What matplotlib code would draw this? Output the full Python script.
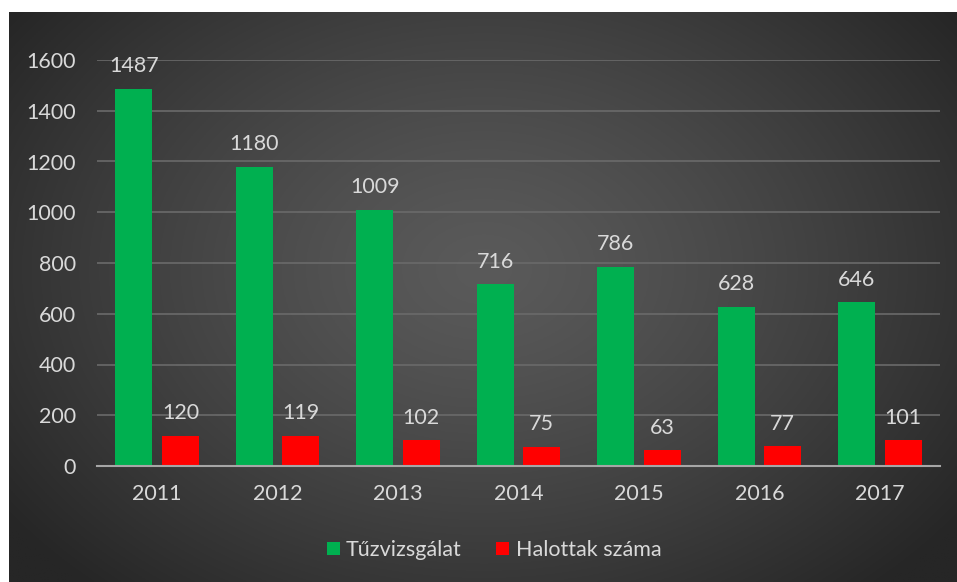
import numpy as np
import matplotlib
matplotlib.use("Agg")
import matplotlib.pyplot as plt

years = ["2011", "2012", "2013", "2014", "2015", "2016", "2017"]
tuzvizsgalat = [1487, 1180, 1009, 716, 786, 628, 646]
halottak = [120, 119, 102, 75, 63, 77, 101]
series_names = ["Tűzvizsgálat", "Halottak száma"]
yticks = [0, 200, 400, 600, 800, 1000, 1200, 1400, 1600]

W, H = 957, 582
fig = plt.figure(figsize=(W / 100, H / 100), dpi=100)
fig.patch.set_facecolor("white")

# background radial gradient
bg = fig.add_axes([9 / W, 0, (W - 9) / W, (H - 12) / H])
ny, nx = 300, 500
yy, xx = np.mgrid[0:ny, 0:nx]
cx, cy = nx * 0.5, ny * 0.45
r = np.sqrt(((xx - cx) / (nx * 0.62)) ** 2 + ((yy - cy) / (ny * 0.75)) ** 2)
r = np.clip(r, 0, 1)
inner, outer = 0x5a / 255, 0x26 / 255
val = inner + (outer - inner) * r ** 1.3
img = np.dstack([val, val, val])
bg.imshow(img, aspect="auto", extent=[0, 1, 0, 1], origin="upper")
bg.set_axis_off()

font = "Lato"
txt_col = "#d9d9d9"
fs = 15.5

ax = fig.add_axes([97 / W, 1 - 466 / H, 843 / W, (466 - 60) / H])
ax.set_facecolor("none")
x = np.arange(len(years))
bw = 0.307
off = 0.193
g = ax.bar(x - off, tuzvizsgalat, bw, color="#00b050", zorder=3, label=series_names[0])
rbar = ax.bar(x + off, halottak, bw, color="#ff0000", zorder=3, label=series_names[1])

for bars, vals in ((g, tuzvizsgalat), (rbar, halottak)):
    for b, v in zip(bars, vals):
        ax.annotate(str(v), (b.get_x() + b.get_width() / 2, v), xytext=(0, 9),
                    textcoords="offset points", ha="center", va="bottom",
                    color=txt_col, fontsize=fs, family=font)

ax.set_ylim(0, 1600)
ax.set_xlim(-0.5, len(years) - 0.5)
ax.set_yticks(yticks)
ax.set_yticklabels([str(t) for t in yticks], family=font, fontsize=fs, color=txt_col)
ax.set_xticks(x)
ax.set_xticklabels(years, family=font, fontsize=fs, color=txt_col)
ax.tick_params(axis="both", length=0)
ax.tick_params(axis="y", pad=15)
ax.tick_params(axis="x", pad=13)
ax.grid(axis="y", color="#6a6a6a", linewidth=1.2, zorder=0)
for s in ["top", "right", "left"]:
    ax.spines[s].set_visible(False)
ax.spines["bottom"].set_color("#a6a6a6")
ax.spines["bottom"].set_linewidth(1.5)
ax.spines["bottom"].set_zorder(4)

leg = fig.legend(handles=[g, rbar], labels=series_names, loc="center",
                 bbox_to_anchor=(494 / W, 1 - 550 / H), ncol=2, frameon=False,
                 prop={"family": font, "size": fs}, handlelength=0.6,
                 handleheight=0.6, handletextpad=0.3, columnspacing=1.6)
for t in leg.get_texts():
    t.set_color(txt_col)

fig.savefig("out.png", dpi=100, facecolor=fig.get_facecolor())
